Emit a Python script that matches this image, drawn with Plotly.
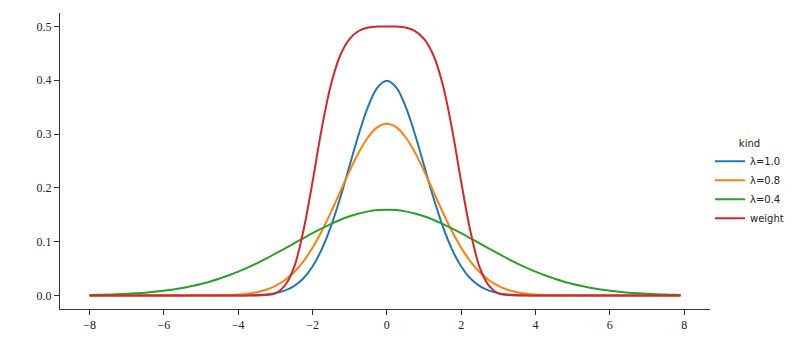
import plotly.graph_objects as go

# sample positions
x = [-8.0, -7.75, -7.5, -7.25, -7.0, -6.75, -6.5, -6.25, -6.0, -5.75, -5.5, -5.25,
     -5.0, -4.75, -4.5, -4.25, -4.0, -3.75, -3.5, -3.25, -3.0, -2.75, -2.5, -2.25,
     -2.0, -1.75, -1.5, -1.25, -1.0, -0.75, -0.5, -0.25, 0.0, 0.25, 0.5, 0.75,
     1.0, 1.25, 1.5, 1.75, 2.0, 2.25, 2.5, 2.75, 3.0, 3.25, 3.5, 3.75,
     4.0, 4.25, 4.5, 4.75, 5.0, 5.25, 5.5, 5.75, 6.0, 6.25, 6.5, 6.75,
     7.0, 7.25, 7.5, 7.75, 7.9]

lam_10 = [0, 0, 0, 0, 0, 0, 0, 0, 0, 0, 0, 0,
          0, 0, 0, 0, 0.0001, 0.0004, 0.0009, 0.0020, 0.0044, 0.0091, 0.0175, 0.0317,
          0.0540, 0.0863, 0.1295, 0.1826, 0.2420, 0.3011, 0.3521, 0.3867, 0.3989, 0.3867, 0.3521, 0.3011,
          0.2420, 0.1826, 0.1295, 0.0863, 0.0540, 0.0317, 0.0175, 0.0091, 0.0044, 0.0020, 0.0009, 0.0004,
          0.0001, 0, 0, 0, 0, 0, 0, 0, 0, 0, 0, 0,
          0, 0, 0, 0, 0]

lam_08 = [0, 0, 0, 0, 0, 0, 0, 0, 0, 0, 0, 0,
          0.0001, 0.0002, 0.0005, 0.0010, 0.0019, 0.0035, 0.0063, 0.0109, 0.0179, 0.0284, 0.0432, 0.0632,
          0.0887, 0.1198, 0.1554, 0.1936, 0.2317, 0.2666, 0.2946, 0.3128, 0.3192, 0.3128, 0.2946, 0.2666,
          0.2317, 0.1936, 0.1554, 0.1198, 0.0887, 0.0632, 0.0432, 0.0284, 0.0179, 0.0109, 0.0063, 0.0035,
          0.0019, 0.0010, 0.0005, 0.0002, 0.0001, 0, 0, 0, 0, 0, 0, 0,
          0, 0, 0, 0, 0]

lam_04 = [0.0010, 0.0013, 0.0018, 0.0024, 0.0032, 0.0042, 0.0054, 0.0070, 0.0090, 0.0113, 0.0142, 0.0176,
          0.0216, 0.0262, 0.0316, 0.0376, 0.0444, 0.0518, 0.0599, 0.0686, 0.0777, 0.0871, 0.0968, 0.1064,
          0.1159, 0.1249, 0.1333, 0.1408, 0.1473, 0.1526, 0.1564, 0.1588, 0.1596, 0.1588, 0.1564, 0.1526,
          0.1473, 0.1408, 0.1333, 0.1249, 0.1159, 0.1064, 0.0968, 0.0871, 0.0777, 0.0686, 0.0599, 0.0518,
          0.0444, 0.0376, 0.0316, 0.0262, 0.0216, 0.0176, 0.0142, 0.0113, 0.0090, 0.0070, 0.0054, 0.0042,
          0.0032, 0.0024, 0.0018, 0.0013, 0.0011]

weight = [0, 0, 0, 0, 0, 0, 0, 0, 0, 0, 0, 0,
          0, 0, 0, 0, 0, 0, 0, 0.001, 0.004, 0.018, 0.052, 0.119,
          0.211, 0.311, 0.393, 0.447, 0.477, 0.492, 0.498, 0.500, 0.500, 0.500, 0.498, 0.492,
          0.477, 0.447, 0.393, 0.311, 0.211, 0.119, 0.052, 0.018, 0.004, 0.001, 0, 0,
          0, 0, 0, 0, 0, 0, 0, 0, 0, 0, 0, 0,
          0, 0, 0, 0, 0]

series_names = ["λ=1.0", "λ=0.8", "λ=0.4", "weight"]
series_values = [lam_10, lam_08, lam_04, weight]
colors = ["#1f77b4", "#ff7f0e", "#2ca02c", "#d62728"]

x_ticks = [-8, -6, -4, -2, 0, 2, 4, 6, 8]
x_tick_labels = ["−8", "−6", "−4", "−2", "0", "2", "4", "6", "8"]
y_ticks = [0.0, 0.1, 0.2, 0.3, 0.4, 0.5]
y_tick_labels = ["0.0", "0.1", "0.2", "0.3", "0.4", "0.5"]

fig = go.Figure()
for name, vals, col in zip(series_names, series_values, colors):
    fig.add_trace(go.Scatter(x=x, y=vals, mode="lines", name=name,
                             line=dict(color=col, width=2, shape="spline", smoothing=1.0)))

serif = "Liberation Serif, serif"
sans = "DejaVu Sans, sans-serif"
axis_common = dict(showgrid=False, zeroline=False, showline=True, linecolor="#333333",
                   linewidth=1, ticks="outside", ticklen=5, tickwidth=1, tickcolor="#333333",
                   automargin=False,
                   tickfont=dict(family=serif, size=12, color="#222222"))

# the page body adds an 8px offset, so margins are shifted accordingly
fig.update_layout(
    width=797, height=359,
    margin=dict(l=52, r=95, t=5, b=58),
    paper_bgcolor="white", plot_bgcolor="white",
    xaxis=dict(range=[-8.795, 8.695], tickvals=x_ticks, ticktext=x_tick_labels, **axis_common),
    yaxis=dict(range=[-0.025, 0.525], tickvals=y_ticks, ticktext=y_tick_labels, **axis_common),
    legend=dict(title=dict(text="kind", side="top center", font=dict(family=sans, size=10)),
                font=dict(family=sans, size=10, color="#222222"),
                x=1.0, xanchor="left", y=0.425, yanchor="middle",
                bgcolor="rgba(0,0,0,0)", itemwidth=30, tracegroupgap=0),
)

fig.write_html("out.html")
